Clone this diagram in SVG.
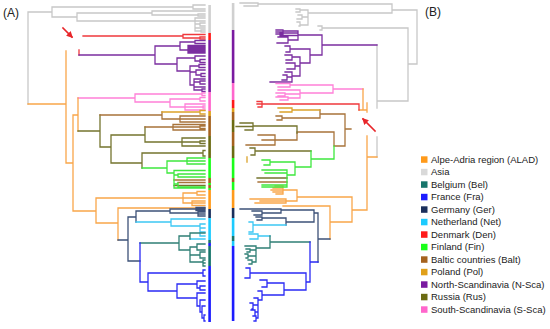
<svg xmlns="http://www.w3.org/2000/svg" width="550" height="329" viewBox="0 0 550 329">
<style>
path{fill:none;stroke-width:1.3;stroke-linecap:square}
.g{stroke:#c8c8c8}.o{stroke:#f9a64a}.r{stroke:#f0383c}.p{stroke:#7b2ea0}.k{stroke:#ff80d8}
.b{stroke:#a8733a}.v{stroke:#74742e}.n{stroke:#3ee83e}.s{stroke:#3d5178}.c{stroke:#3cc8f4}
.t{stroke:#2f7f75}.u{stroke:#2a2af5}.y{stroke:#dba22a}
.lbl{font-family:"Liberation Sans",Arial,sans-serif;fill:#222}
.leg{font-family:"Liberation Sans",Arial,sans-serif;font-size:9.5px;fill:#222}
</style>
<defs>
<marker id="ah" viewBox="0 0 10 10" refX="8" refY="5" markerWidth="4" markerHeight="4" orient="auto"><path d="M0,0L10,5L0,10z" style="fill:#e8262a;stroke:none"/></marker>
</defs>
<rect width="550" height="329" fill="#fff"/>

<g id="tree-a">
<path class="g" d="M28,12V104M28,12H52M52,7V17M52,7H193M193,5V9M193,5H205M193,9H205M52,17H77M77,13V21M77,13H152M152,11V15M152,11H205M152,15H198M198,14V16M198,14H205M198,16H205M77,21H195M195,18V31M195,18H205M195,21H205M195,24H200M200,23V26M200,23H205M200,26H205M195,28H205M195,31H201M201,30V32M201,30H205M201,32H205"/>
<path class="r" d="M83,36H183M183,34.5V38M183,34.5H205M183,38H200M200,37V39M200,37H205M200,39H205M79,50V55"/>
<path class="p" d="M79,55H155M155,46V64M155,46H180M180,42V50M180,42H195M195,40.5V43.5M195,40.5H205M195,43.5H205M180,50H188M188,45.5V53M188,45.5H205M188,47H205M188,48.5H205M188,50H205M188,51.5H205M188,53H205M155,64H177M177,58V71M177,58H195M195,56V61M195,56H205M195,61H200M200,59.5V62.5M200,59.5H205M200,62.5H205M177,71H190M190,66V85M190,66H199M199,64.5V67.5M199,64.5H205M199,67.5H205M190,72H196M196,70V75M196,70H205M196,75H201M201,73.5V76.5M201,73.5H205M201,76.5H205M190,85H194M194,79V90M194,79H205M194,82H200M200,81V84M200,81H205M200,84H205M194,87H205M194,90H202M202,89V91.5M202,89H205M202,91.5H205"/>
<path class="k" d="M78,98H135M135,94V102M135,94H202M202,93V95.5M202,93H205M202,95.5H205M135,102H170M170,99V107M170,99H200M200,97.5V101M200,97.5H205M200,101H205M170,107H185M185,104V110M185,104H205M185,107H203M203,106V108M203,106H205M203,108H205M185,110H205"/>
<path class="o" d="M28,104H66M66,51V163M66,163H73M73,115V211M73,115H78M78,98V131M73,211H96M96,198V223M96,198H183M183,193V203M183,193H197M197,191.5V195M197,191.5H205M197,195H205M183,198H205M183,203H192M192,201V205.5M192,201H205M192,203H205M192,205.5H205M96,223H118M118,208V240M118,208H205"/>
<path class="v" d="M78,131H100M100,115V147M100,147H111M111,135V163M111,135H145M145,127V142M145,142H182M182,138V146M182,138H205M182,142H200M200,141V143.5M200,141H205M200,143.5H205M182,146H205M111,163H142M142,153V168M142,153H203M203,150.5V156M203,150.5H205M203,156H205M174,185.5H205"/>
<path class="b" d="M100,115H162M162,112V119M162,119H180M180,116V122M180,116H205M180,119H205M180,122H205M145,127H173M173,124.5V130M173,124.5H205M173,127H200M200,126V128.5M200,126H205M200,128.5H205M173,130H205M174,180H205M178,182.5H205"/>
<path class="y" d="M162,112H200M200,110.5V114M200,110.5H205M200,114H205"/>
<path class="n" d="M142,168H167M167,161V173M167,161H187M187,158V164M187,158H205M187,161H205M187,164H205M167,173H174M174,170.5V188M174,170.5H205M174,175H178M178,174V177M178,174H205M178,177H205M174,184H178M178,183V187M178,187H205M174,188H205"/>
<path class="s" d="M118,240H128M128,217V261M128,217H136M136,211V222M136,211H170M170,209V213M170,209H196M196,207.5V210.5M196,207.5H205M196,209H205M196,210.5H205M170,213H198M198,212V216M198,212H205M198,214H205M198,216H205M128,261H140"/>
<path class="c" d="M136,222H171M171,219V226M171,219H205M171,226H200M200,224V236M200,224H205M200,228H205M200,232H205M200,236H205M190,239H205"/>
<path class="t" d="M140,243H179M179,236V250M179,236H190M190,233V239M190,233H205M179,250H190M190,247V262M190,247H197M197,244V250M197,244H205M197,250H205M190,255H200M200,252V258M200,252H205M200,258H205M190,262H203M203,260V266M203,260H205M203,263H205M203,266H205"/>
<path class="u" d="M140,243V282M140,282H148M148,273V291M148,273H203M203,270V276M203,270H205M203,276H205M148,291H177M177,284V298M177,284H197M197,281V288M197,281H205M197,288H200M200,286V290M200,286H205M200,290H205M177,298H197M197,293V306M197,293H205M197,306H200M200,300V312M200,300H205M200,312H202M202,306V318M202,306H205M202,318H204M204,315V321M204,315H205M204,321H205"/>
</g>

<g id="bar-a">
<rect x="208.3" y="5" width="2.6" height="28" fill="#d0d0d0"/>
<rect x="208.3" y="33" width="2.6" height="7" fill="#ff1a1a"/>
<rect x="208.3" y="40" width="2.6" height="52" fill="#7a1aa0"/>
<rect x="208.3" y="92" width="2.6" height="19" fill="#ff66cc"/>
<rect x="208.3" y="111" width="2.6" height="5" fill="#e0a01a"/>
<rect x="208.3" y="116" width="2.6" height="20" fill="#a5621e"/>
<rect x="208.3" y="136" width="2.6" height="22" fill="#6b6b12"/>
<rect x="208.3" y="158" width="2.6" height="20" fill="#1aff1a"/>
<rect x="208.3" y="178" width="2.6" height="5" fill="#a5621e"/>
<rect x="208.3" y="183" width="2.6" height="2" fill="#1aff1a"/>
<rect x="208.3" y="185" width="2.6" height="3" fill="#a5621e"/>
<rect x="208.3" y="188" width="2.6" height="2" fill="#1aff1a"/>
<rect x="208.3" y="190" width="2.6" height="19" fill="#ff9a1a"/>
<rect x="208.3" y="209" width="2.6" height="9" fill="#1a2f5c"/>
<rect x="208.3" y="218" width="2.6" height="22" fill="#1ccbff"/>
<rect x="208.3" y="240" width="2.6" height="3" fill="#17756b"/>
<rect x="208.3" y="243" width="2.6" height="3" fill="#1c1cff"/>
<rect x="208.3" y="246" width="2.6" height="20" fill="#17756b"/>
<rect x="208.3" y="266" width="2.6" height="56" fill="#1c1cff"/>
</g>

<g id="tree-b">
<path class="g" d="M417,10V64M392,10H417M392,4V13M392,4H258M258,3V6M258,3H240M258,6H244M392,13H308M308,10V25M308,10H300M300,9V12M300,9H296M300,12H296M308,17H302M302,15V19M302,15H298M302,19H297M308,25H300M300,22V26M300,22H297M300,26H299M408,64H417M408,28V101M408,28H322M322,26V30M322,26H318M322,30H320M377,101H408M377,45V108M377,137V157"/>
<path class="p" d="M322,45H377M322,35V55M322,35H298M298,31V40M298,31H283M283,30V34M283,30H276M283,32H276M283,34H276M298,33H280M298,35.5H280M298,40H288M288,37V43M288,37H278M288,43H277M322,55H310M310,49V63M310,49H290M290,46V52M290,46H285M290,52H286M310,63H300M300,57V76M300,57H292M292,55V60M292,55H285M292,60H286M300,66H295M295,63V69M295,63H286M295,69H287M300,76H292M292,72V82M292,72H285M292,77H287M287,75V80M287,75H283M287,80H282M292,82H270"/>
<path class="k" d="M333,89H363M333,85V93M333,85H290M290,83.5V87M290,83.5H276M290,87H278M333,93H300M300,90V98M300,90H278M300,94H285M285,93V96M285,93H276M285,96H278M300,98H288M288,97V100M288,97H276M288,100H280"/>
<path class="o" d="M363,89V110M359,110H367M367,103V112M367,136V210M367,157H368M367,210H352M352,197V222M352,197H297M297,190V201M297,190H283M283,186V194M283,186H275M283,188H273M283,190H271M283,192H273M283,194H276M297,201H286M286,199V203M286,199H250M286,201H260M286,203H255M352,222H330M330,206V239M330,206H283M368,157H377"/>
<path class="r" d="M359,104V110M359,104H262M262,101.5V107M262,101.5H257M262,104H257M262,107H258"/>
<path class="b" d="M345,114V146M345,114H320M320,110V118M320,118H282M282,116V120M282,116H276M282,120H277M345,129H351M345,146H334M334,132V146M334,132H297M297,133V140M297,140H275M275,135V145M275,135H258M275,140H262M275,145H246M287,182H258"/>
<path class="y" d="M320,110H292M292,108V112M292,108H278M292,112H280M247,157V162"/>
<path class="v" d="M297,126V133M297,126H253M253,123V130M253,123H240M253,126.5H236M253,130H245M311,151H255M255,148V155M255,148H250M255,155H251M287,178H257"/>
<path class="n" d="M334,146V159M334,159H311M311,151V167M311,167H295M295,162V175M295,162H270M270,160V165M270,160H262M270,165H264M295,175H287M287,170V187M287,170H262M287,173H265M287,185H262M287,187H262"/>
<path class="s" d="M330,239H318M318,213V262M318,213H314M314,210V222M314,210H281M281,209V213M281,209H240M281,213H262M262,211V215M262,211H252M262,215H254M314,222H286M286,218V225M286,218H262M262,217V220M262,217H256M262,220H257"/>
<path class="c" d="M286,225H253M253,222V232M253,222H249M253,232H249M270,236H258M258,234V239M258,234H249M258,239H250"/>
<path class="t" d="M310,242H270M270,236V248M270,248H256M256,246V262M256,246H245M256,250H250M250,249V252M250,249H246M250,252H247M256,256H248M248,254V258M248,254H245M248,258H246M256,262H252M252,260V264M252,260H248M252,264H249"/>
<path class="u" d="M318,262H310M310,242V282M310,282H306M306,273V290M306,273H250M250,268V278M250,268H246M250,278H245M306,290H284M284,283V295M284,283H267M267,280V287M267,280H260M267,287H262M284,295H262M262,291V300M262,291H258M262,300H258M258,298V318M258,298H254M258,305H253M253,303V309M253,303H250M253,309H252M258,312H255M255,310V316M255,310H251M255,316H253M258,318H256M256,316V321M256,321H254"/>
</g>

<g id="bar-b">
<rect x="231.8" y="3" width="2.6" height="27" fill="#d0d0d0"/>
<rect x="231.8" y="30" width="2.6" height="53" fill="#7a1aa0"/>
<rect x="231.8" y="83" width="2.6" height="17" fill="#ff66cc"/>
<rect x="231.8" y="100" width="2.6" height="8" fill="#ff1a1a"/>
<rect x="231.8" y="108" width="2.6" height="4" fill="#e0a01a"/>
<rect x="231.8" y="112" width="2.6" height="8" fill="#a5621e"/>
<rect x="231.8" y="120" width="2.6" height="12" fill="#6b6b12"/>
<rect x="231.8" y="132" width="2.6" height="14" fill="#a5621e"/>
<rect x="231.8" y="146" width="2.6" height="12" fill="#6b6b12"/>
<rect x="231.8" y="158" width="2.6" height="20" fill="#1aff1a"/>
<rect x="231.8" y="178" width="2.6" height="4" fill="#a5621e"/>
<rect x="231.8" y="182" width="2.6" height="8" fill="#1aff1a"/>
<rect x="231.8" y="190" width="2.6" height="18" fill="#ff9a1a"/>
<rect x="231.8" y="208" width="2.6" height="10" fill="#1a2f5c"/>
<rect x="231.8" y="218" width="2.6" height="18" fill="#1ccbff"/>
<rect x="231.8" y="236" width="2.6" height="5" fill="#17756b"/>
<rect x="231.8" y="241" width="2.6" height="5" fill="#1ccbff"/>
<rect x="231.8" y="246" width="2.6" height="75" fill="#1c1cff"/>
</g>

<g id="arrows">
<path d="M63,28L72,37" style="stroke:#e8262a;stroke-width:1.6" marker-end="url(#ah)"/>
<path d="M375,131L363,119" style="stroke:#e8262a;stroke-width:1.6" marker-end="url(#ah)"/>
</g>

<g id="labels">
<text class="lbl" x="3" y="17" font-size="12">(A)</text>
<text class="lbl" x="425" y="16" font-size="12">(B)</text>
</g>

<g id="legend">
<g id="leg-alad"><rect x="421" y="156.3" width="6.5" height="6.5" fill="#ff9a1a"/><text class="leg" x="431" y="162.9">Alpe-Adria region (ALAD)</text></g>
<g id="leg-asia"><rect x="421" y="168.8" width="6.5" height="6.5" fill="#d9d9d9"/><text class="leg" x="431" y="175.4">Asia</text></g>
<g id="leg-bel"><rect x="421" y="181.3" width="6.5" height="6.5" fill="#17756b"/><text class="leg" x="431" y="187.9">Belgium (Bel)</text></g>
<g id="leg-fra"><rect x="421" y="193.8" width="6.5" height="6.5" fill="#1c1cff"/><text class="leg" x="431" y="200.4">France (Fra)</text></g>
<g id="leg-ger"><rect x="421" y="206.3" width="6.5" height="6.5" fill="#1a2f5c"/><text class="leg" x="431" y="212.9">Germany (Ger)</text></g>
<g id="leg-net"><rect x="421" y="218.8" width="6.5" height="6.5" fill="#1ccbff"/><text class="leg" x="431" y="225.4">Netherland (Net)</text></g>
<g id="leg-den"><rect x="421" y="231.3" width="6.5" height="6.5" fill="#ff1a1a"/><text class="leg" x="431" y="237.9">Denmark (Den)</text></g>
<g id="leg-fin"><rect x="421" y="243.8" width="6.5" height="6.5" fill="#1aff1a"/><text class="leg" x="431" y="250.4">Finland (Fin)</text></g>
<g id="leg-balt"><rect x="421" y="256.3" width="6.5" height="6.5" fill="#a5621e"/><text class="leg" x="431" y="262.9">Baltic countries (Balt)</text></g>
<g id="leg-pol"><rect x="421" y="268.8" width="6.5" height="6.5" fill="#e0a01a"/><text class="leg" x="431" y="275.4">Poland (Pol)</text></g>
<g id="leg-nsca"><rect x="421" y="281.3" width="6.5" height="6.5" fill="#7a1aa0"/><text class="leg" x="431" y="287.9">North-Scandinavia (N-Sca)</text></g>
<g id="leg-rus"><rect x="421" y="293.8" width="6.5" height="6.5" fill="#6b6b12"/><text class="leg" x="431" y="300.4">Russia (Rus)</text></g>
<g id="leg-ssca"><rect x="421" y="306.3" width="6.5" height="6.5" fill="#ff66cc"/><text class="leg" x="431" y="312.9">South-Scandinavia (S-Sca)</text></g>
</g>
</svg>
